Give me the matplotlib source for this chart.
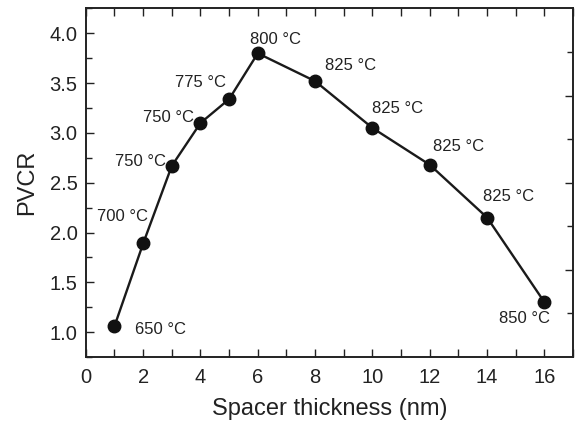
import matplotlib
matplotlib.use("Agg")
import matplotlib.pyplot as plt
from matplotlib.ticker import MultipleLocator, FixedLocator, NullFormatter, FormatStrFormatter

plt.rcParams['font.family'] = ['Liberation Sans', 'DejaVu Sans']

thickness = [1, 2, 3, 4, 5, 6, 8, 10, 12, 14, 16]
pvcr = [1.06, 1.89, 2.67, 3.10, 3.34, 3.80, 3.52, 3.05, 2.68, 2.15, 1.30]
labels = ["650 °C", "700 °C", "750 °C", "750 °C", "775 °C", "800 °C",
          "825 °C", "825 °C", "825 °C", "825 °C", "850 °C"]
label_pos = [(2.6, 1.03), (1.28, 2.16), (1.90, 2.71), (2.89, 3.16), (4.0, 3.51),
             (6.61, 3.94), (9.24, 3.68), (10.87, 3.25), (13.0, 2.86), (14.76, 2.36),
             (15.3, 1.14)]

fig = plt.figure(figsize=(5.76, 4.24), dpi=100)
ax = fig.add_axes([0.149, 0.158, 0.846, 0.822])

ax.plot(thickness, pvcr, color='#1a1a1a', lw=1.7, marker='o', ms=9,
        mfc='#111111', mec='#111111', zorder=3)

for t, (lx, ly) in zip(labels, label_pos):
    ax.text(lx, ly, t, ha='center', va='center', fontsize=12, color='#222222')

ax.set_xlim(0, 17)
ax.set_ylim(0.75, 4.25)
ax.xaxis.set_major_locator(MultipleLocator(2))
ax.xaxis.set_minor_locator(MultipleLocator(1))
ax.yaxis.set_major_locator(MultipleLocator(0.5))
ax.yaxis.set_minor_locator(MultipleLocator(0.25))
ax.yaxis.set_major_formatter(FormatStrFormatter('%.1f'))

ax.tick_params(which='both', direction='in', top=True, right=False, labelsize=14.5,
               color='#222222', labelcolor='#222222', width=1)
ax.tick_params(which='major', length=6)
ax.tick_params(which='minor', length=4)
ax.tick_params(axis='x', which='minor', top=True, length=6)
ax.tick_params(axis='x', which='major', pad=8)
ax.tick_params(axis='y', which='major', pad=6)

# right axis ticks (independent division as in the original frame)
ax2 = ax.twinx()
ax2.set_ylim(0.75, 4.25)
ax2.yaxis.set_major_locator(FixedLocator([1.625, 2.5, 3.375]))
ax2.yaxis.set_minor_locator(FixedLocator([1.1875, 2.0625, 2.9375, 3.8125]))
ax2.yaxis.set_major_formatter(NullFormatter())
ax2.tick_params(which='both', direction='in', color='#222222', width=1)
ax2.tick_params(which='major', length=6)
ax2.tick_params(which='minor', length=4)

for a in (ax, ax2):
    for s in a.spines.values():
        s.set_linewidth(1.2)
        s.set_color('#222222')

ax.set_xlabel('Spacer thickness (nm)', fontsize=17, color='#222222', labelpad=8)
ax.set_ylabel('PVCR', fontsize=17, color='#222222', labelpad=8)

fig.savefig('out.png', dpi=100)
